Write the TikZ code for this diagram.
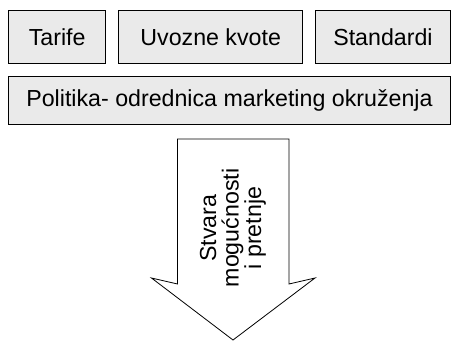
\documentclass[tikz,border=0pt]{standalone}
\usepackage{fontspec}
\setmainfont{Liberation Sans}
\definecolor{boxfill}{RGB}{234,234,234}
\begin{document}
\begin{tikzpicture}[x=1pt,y=-1pt,
  txt/.style={font=\fontsize{23.2}{22.5}\selectfont, text=black},
  box/.style={draw=black, line width=1.4pt, fill=boxfill, txt, inner sep=0pt, anchor=north west},
  arrowshape/.style={draw=black, line width=0.8pt, fill=white, line join=miter}]
\useasboundingbox (0,0) rectangle (451,341);
\node[box, minimum width=97pt, minimum height=53pt] (tarife) at (8,10) {Tarife};
\node[box, minimum width=184pt, minimum height=53pt] (kvote) at (118,10) {Uvozne kvote};
\node[box, minimum width=134.5pt, minimum height=53pt] (standardi) at (315,10) {Standardi};
\node[box, minimum width=441.5pt, minimum height=48pt] (politika) at (8,76) {Politika- odrednica marketing okruženja};
\draw[arrowshape] (177.5,139) -- (289,139) -- (289,284) -- (315,278) -- (233,340)
  -- (151.5,278) -- (177.5,284) -- cycle;
\node[txt, rotate=90, align=center, inner sep=0pt] (strelica) at (233,228) {Stvara\\mogućnosti\\i pretnje};
\end{tikzpicture}
\end{document}
